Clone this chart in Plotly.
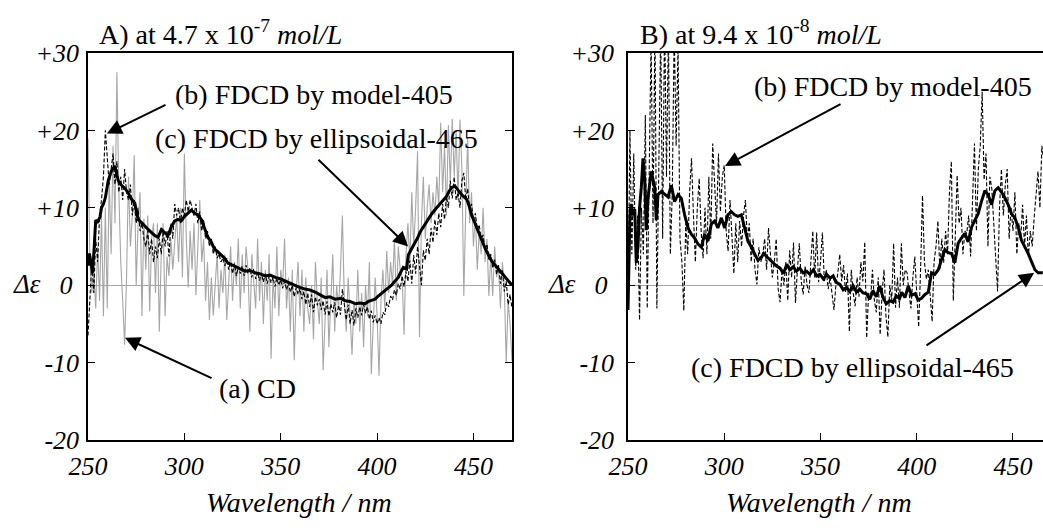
import plotly.graph_objects as go

# ---------------- data ----------------
wl_A = list(range(250, 471))
cd_A = [19, 3, -1, 2, -3, 5, -2, 9, -4, 10,
        -3, 14, 4, 18, 8, 27.5, 12, 3, -2, -7.7,
        1, 14, 5, 9, 16.8, 0, 8, 12, -4, 8.6,
        2, 9, -3.4, 6, 8, -1, 8, -6, 4, 8,
        -4, 3.7, 1.2, 6, 2, 5, 9, 3, 10, 1,
        17, 6, -0.3, 7, 2, 8, -1.3, 5, 11, 3,
        6, -2, 3, -4.5, 1, -3.9, 0.3, 4, -3, 2,
        -1, 4, -4.5, 1, 5, -2, 3, 0, 6, -3,
        4, -1, 5, 2, -6, 4, 1, -3, 6, -2,
        3, -5, 2, -2, 4, -9.5, 1, -3, 5, -4,
        2, 0, 6, -3, 1, -6, 2, -9.7, -1, 3,
        -4, 2, -6, 1, -3, -5, 0, -7, 3, -2,
        -5, 1, -11, -3, 2, -8, -2, 4, -6, 0,
        -3, 2, 9, -2, -6, 1, -4, -9, -2, -5,
        2, -6, -1, -8, 0, -4, 3, -11.5, -5, 1,
        -4, -11.7, -2, 2, -3, 4.4, -1, 3, 0, 6,
        -2, 5, 2, 1, -6.4, 4, 8, 3, 12, 5,
        10, 17.3, -6.7, 8, 14, 6, 10, 13, 8, 12,
        9, 14, 10, 21, 12, 18, 9, 20.7, 13, 21.5,
        14, 20, 11, 21.4, 15, -1.4, 10, 19, 8, 12,
        5, 9, 2, 7, 4, 10, 3, 6, -1.4, 4,
        -1.4, 5, 1, 2.3, -3, 3, 0, -10, -2, -5, -9.8]
model_A = [-6.5, -2, 3, -1, 6, 3, 9, 11, 14, 20,
           16, 13, 15, 17, 13, 16, 12, 14, 11, 15,
           12, 11, 13, 9, 11, 8, 10, 7, 8, 6,
           5, 7, 4, 6, 3, 5, 3.5, 6, 4, 7,
           5, 7, 3.7, 8, 6, 10.5, 9, 10, 8, 10,
           9, 11, 9.5, 11, 10, 9, 10.5, 8, 9.5, 7,
           8.5, 6, 7, 5, 6, 4, 5, 3.5, 4, 3,
           3.5, 2.5, 3.5, 2, 3, 1.5, 2.8, 1.2, 2.4, 1.5,
           2.5, 1.2, 2.6, 1.5, 2.2, 1, 2.1, 0.8, 1.7, 0.6,
           1.6, 0.4, 1.5, 0.2, 1.2, 0.3, 1, -0.2, 0.9, 0,
           0.7, -0.4, 0.5, -0.6, 0.3, -0.9, 0, -1.5, -0.3, -1.2,
           -0.5, -1.8, -0.8, -2.5, -1, -2.8, -1.2, -3.5, -1.5, -2.6,
           -1.8, -3.2, -2, -3.8, -2.1, -4, -2.4, -3.5, -2.2, -4.2,
           -2.6, -3.8, -0.5, -2.8, -4.5, -2.5, -5, -3.2, -5.2, -3,
           -4.2, -2.8, -3.9, -2.5, -3.6, -2.8, -4.4, -3.3, -4.8, -3.9,
           -5, -4.2, -5, -3.5, -3.8, -2.2, -2.8, -1.4, -1.9, -0.6,
           -1.3, 0.2, -0.5, 1.2, -0.2, 1.8, 0.5, 3.2, 0.2, 3.9,
           1.5, 5, 2.5, 0, 4.5, 3.2, 6, 4, 7.4, 5.5,
           8.5, 6.5, 9.3, 7.5, 10.5, 8.5, 11.5, 10, 13.5, 11.2,
           14, 11, 12, 10, 13.5, 14.5, 11, 12.5, 9.8, 10.5,
           8.4, 9.3, 7.2, 7.8, 5.8, 6.5, 4.6, 5.3, 3.3, 4,
           2.2, 3.3, 1.4, 2.6, 0.2, 2, -0.8, 0.5, -2.5, -1.2, -3]
wl_ell_A = [250, 250.7, 251.5, 252.3, 253, 254, 255, 256.2, 257, 258, 259, 260.5, 262.2, 264,
            265, 265.7, 267.4, 269.2, 270.9, 272.6, 274.3, 276, 277.8, 279.5, 281.2, 283, 284.7,
            286.4, 288.1, 289.8, 291.5, 293.3, 295, 296.7, 298.4, 300.1, 301.9, 303.6, 305.3, 307,
            308.8, 310.5, 312.2, 313.9, 315.6, 317.4, 319.1, 320.8, 322.5, 324, 326.3, 328.5, 331.5,
            334, 336.7, 339, 341.9, 344.5, 347.1, 350, 352.3, 355, 357.5, 360, 362.7, 365, 367.9,
            370.5, 373.1, 375.5, 378.3, 381, 383.5, 386, 388.7, 391, 393.8, 395.5, 397.2, 399, 400.6,
            402.5, 404.1, 405.8, 407.5, 409.2, 411, 412.3, 413.6, 415.3, 416.2, 417.9, 419.6, 421,
            422.2, 424.8, 426.5, 428.3, 430.9, 433.5, 436.1, 437.5, 438.7, 440.4, 442.1, 443.5,
            444.7, 446.5, 447.8, 449.1, 450.8, 452.5, 454.2, 456, 457.8, 459.5, 461.2, 462.9, 464.6,
            466.4, 468, 470]
ell_A = [2.5, 4.1, 3, 1.6, 4, 8.4, 8.2, 8.8, 10, 10.5, 11.3, 13.5, 14.8, 15.4,
         14.2, 13.5, 12.9, 12.5, 11.9, 11.1, 10.6, 8.5, 8.1, 7.6, 7.2, 6.8, 6.4,
         6.2, 7.2, 6.8, 6.4, 7.6, 8.3, 8.5, 8.3, 8.9, 9.3, 9.7, 9.3, 9.1,
         8.5, 7.2, 6.2, 5.6, 4.7, 4.3, 3.9, 3.5, 2.9, 2.7, 2.5, 2.1, 1.8,
         1.9, 1.6, 1.5, 1.2, 1.3, 1.0, 0.8, 0.55, 0.2, -0.1, -0.3, -0.5, -0.6, -0.9,
         -1.2, -1.6, -1.5, -1.8, -1.7, -2.0, -2.1, -2.4, -2.3, -2.4, -2.1, -2.0, -1.8, -1.4,
         -1.0, -0.6, -0.3, 0, 0.5, 1.0, 1.7, 2.3, 2.1, 3.9, 4.7, 5.4, 6.1,
         6.8, 7.9, 8.5, 9.2, 10, 10.7, 11.5, 12.2, 12.6, 12.8, 12.2, 11.8,
         11.5, 11.1, 10.2, 9, 8, 6.9, 5.8, 4.8, 3.9, 3.1, 2.6, 2.1, 1.6,
         1.0, 0.6, 0]

wl_B = list(range(250, 467))
model_B = [-3, 20, 4, 17, 2, 9, -4.5, 10, 4, 22,
           -3, 12, 32, 8, 34, -3, 16, 33, 6, 35,
           14, 33, 4, 12, 33, 18, 31, 6, 3, -3.3,
           8, 4, 12, 16.4, 9, 3, 10, 13.8, 7, 3.5,
           10, 4, 14, 6, 18.3, 12, 8, 17, 9.5, 14,
           15.5, 7, 4.4, 11, 6, 1.5, 8, 3, 8.3, 5,
           9, 11, 5.7, 8, 3, 6, 2, 0.1, 4.9, 3,
           4, 6, 2, 7.4, 4, 1, 3, 6, -0.5, -2.2,
           2, 0, 3, -2, 4.5, 1, 5.5, -2.3, 2, 5.4,
           0.5, -1.2, 2.5, 0, -1, 3, 7, 1, 6.8, 0.4,
           3, 6.8, 0.4, 2, -0.5, 1, -1.5, -3.2, 0, 1.5,
           4, 0.5, 2.6, -1, 1.5, -6, 2, -1, -2.7, 1,
           -1.5, 3, 0.5, 5.6, -6.8, -1, -1.8, 2, -2, -3.5,
           1, -6.4, -1, 2, -4, -6.7, 0, -2, 5.4, -2.9,
           1, -2.9, 5.4, 0, 2, 1.6, -1, -3, 1, 3.7,
           -1, -5.4, 2, 11.6, 3, 0.8, 2, -1, -4.7, 3,
           5, 8.3, 2, 6, 2.9, 7, 4, 12, 16, -2,
           6, 14.2, 8, 10, 4, 7, 6.7, 9, 3.7, 11,
           18.3, 7, 15, 18, 25, 13.6, 17, 5, 14, 12.5,
           8, 2.5, -0.8, 10, 15, 9, 13, 15, 6, 10,
           7, 12, 4, 8, 6, 10.4, 5, 9, 3.7, 7,
           5, 8.7, 12, 14.7, 10, 18, 16]
wl_ell_B = [250, 250.5, 251, 251.6, 252.2, 252.7, 253.5, 254.3, 255.2, 256, 256.9, 257.8, 258.7,
            259.5, 260.4, 262.1, 263.9, 264.7, 265.6, 267.3, 269.1, 270.8, 272.5, 274.2, 276,
            277.7, 279.4, 281.2, 282.9, 284.6, 286.4, 288.1, 289.8, 291.5, 293.3, 295, 296.7,
            298.5, 300.2, 301.9, 303.7, 305.4, 307.1, 308.9, 310.6, 312.3, 314.1, 315.8, 317.5,
            319.3, 320.5, 322, 325.5, 327, 329, 330.8, 332.5, 334, 335.9, 337.5, 339.3, 341,
            342.8, 344.5, 346.3, 348, 349.7, 351.5, 353.2, 355, 356.6, 358, 360.1, 361.8, 363.5,
            365.2, 367, 368.7, 370.4, 372.1, 373.9, 375.6, 377.3, 379, 380.8, 382.5, 384.2,
            385.9, 387.7, 389.4, 391.1, 392.2, 393.9, 395.6, 397.3, 399.1, 400.8, 402.5, 404.3,
            406, 407.7, 409.4, 411.2, 412.9, 414.6, 416.3, 418.1, 419.8, 421.5, 423.2, 425,
            426.7, 428.5, 430.2, 431.9, 433.6, 435.4, 437.1, 438.9, 440.6, 442.3, 444.1, 445.8,
            447.5, 449.3, 451, 452.7, 454.4, 456.2, 457.9, 459.7, 461.4, 463.1, 465.5]
ell_B = [-3.2, 3, 9, 10.5, 9, 9.6, 9.8, 2.9, 5, 10, 12.6, 16.4, 13.5,
         7.1, 11.3, 14.7, 12.6, 8.4, 11.7, 12.1, 11.7, 11.4, 12.9, 10.8, 11.7,
         11.2, 9.1, 7.4, 6.6, 6.1, 5.3, 4.9, 6.6, 5.7, 7.9, 8.3, 7.4,
         8.7, 7.4, 9.1, 9.5, 9.1, 8.9, 9.1, 7.4, 5.7, 4.9, 4.0, 3.2,
         3.6, 4.1, 3.7, 2.9, 2.5, 2.2, 1.5, 2.7, 2.0, 2.4, 1.8, 2.2, 1.6,
         1.8, 1.4, 2.0, 1.2, 1.4, 0.8, 1.4, 0.9, 1.2, 0.4, 0.1, -0.6, -0.3,
         -0.8, -0.1, -0.9, -0.5, -1.0, -1.1, -1.8, -0.7, -1.5, -0.1, -1.6, -2.4,
         -2.0, -2.2, -1.4, -1.7, -0.9, -1.6, -0.1, -1.3, -1.1, -1.9, -1.7, -1.2,
         -0.9, 1.6, 1.4, 2.0, 3.3, 4.6, 4.2, 4.1, 2.9, 5.4, 6.1, 6.7,
         5.6, 7.5, 8.4, 9.2, 10.8, 12.2, 11.7, 10.4, 12.2, 12.6, 12.0, 11.3,
         10.4, 9.2, 8.7, 7.5, 5.8, 5.0, 4.1, 3.0, 2.0, 1.6, 1.6]

y_ticks = [-20, -10, 0, 10, 20, 30]
y_labels = ["-20", "-10", "0\u00a0", "+10", "+20", "+30"]
x_ticks = [250, 300, 350, 400, 450]
x_labels = ["250", "300", "350", "400", "450"]

# ---------------- figure ----------------
W, H = 1043, 531
SERIF = "Liberation Serif, Times New Roman, Times, serif"
GRAY = "#a6a6a6"


def px(x):
    return x / W


def py(y):
    return 1 - y / H


fig = go.Figure()

fig.add_trace(go.Scatter(x=wl_A, y=cd_A, mode="lines", line=dict(color=GRAY, width=1.1),
                         xaxis="x", yaxis="y", name="(a) CD"))
fig.add_trace(go.Scatter(x=wl_A, y=model_A, mode="lines",
                         line=dict(color="black", width=1.1, dash="4px,2px"),
                         xaxis="x", yaxis="y", name="(b) model-405"))
fig.add_trace(go.Scatter(x=wl_ell_A, y=ell_A, mode="lines", line=dict(color="black", width=3),
                         xaxis="x", yaxis="y", name="(c) ellipsoidal-465"))

fig.add_trace(go.Scatter(x=wl_B, y=model_B, mode="lines",
                         line=dict(color="black", width=1.1, dash="4px,2px"),
                         xaxis="x2", yaxis="y2", name="(b) model-405"))
fig.add_trace(go.Scatter(x=wl_ell_B, y=ell_B, mode="lines", line=dict(color="black", width=3),
                         xaxis="x2", yaxis="y2", name="(c) ellipsoidal-465"))

tickfont = dict(family=SERIF, size=26, color="black", style="italic")
ydom = [py(440), py(53)]

common_x = dict(tickvals=x_ticks, ticktext=x_labels, ticks="inside", ticklen=7, tickwidth=1.2,
                tickcolor="black", showline=True, linecolor="black", linewidth=1.5,
                showgrid=False, zeroline=False, tickfont=tickfont, fixedrange=True,
                automargin=False)
common_y = dict(range=[-20, 30], tickvals=y_ticks, ticktext=y_labels, ticks="inside", ticklen=7,
                tickwidth=1.2, tickcolor="black", showline=True, linecolor="black", linewidth=1.5,
                showgrid=False, zeroline=True, zerolinecolor=GRAY, zerolinewidth=1.3,
                tickfont=tickfont, domain=ydom, fixedrange=True, automargin=False)

fig.update_layout(
    template="none",
    width=W, height=H, margin=dict(l=0, r=0, t=0, b=0, pad=0, autoexpand=False),
    paper_bgcolor="white", plot_bgcolor="white", showlegend=False,
    xaxis=dict(domain=[px(88), px(512)], range=[250, 470], anchor="y", mirror=True,
               ticklabelstandoff=2, **common_x),
    yaxis=dict(anchor="x", mirror="ticks", ticklabelstandoff=2, **common_y),
    xaxis2=dict(domain=[px(628), 1.0], range=[250, 465.6], anchor="y2", mirror=True,
                ticklabelstandoff=2, **common_x),
    yaxis2=dict(anchor="x2", mirror=False, ticklabelstandoff=7, **common_y),
)

ann = []
txt_font = dict(family=SERIF, size=28, color="black")
# titles
ann.append(dict(x=px(97), y=py(33), xref="paper", yref="paper", xanchor="left", yanchor="middle",
                text="A) at 4.7 x 10<sup>-7</sup> <i>mol/L</i>", showarrow=False,
                font=dict(family=SERIF, size=28, color="black")))
ann.append(dict(x=px(638), y=py(33), xref="paper", yref="paper", xanchor="left", yanchor="middle",
                text="B) at 9.4 x 10<sup>-8</sup> <i>mol/L</i>", showarrow=False,
                font=dict(family=SERIF, size=28, color="black")))
# delta epsilon labels
for xx in (27, 562):
    ann.append(dict(x=px(xx), y=py(284), xref="paper", yref="paper", text="<i>Δε</i>",
                    xanchor="center", yanchor="middle",
                    showarrow=False, font=dict(family=SERIF, size=27, color="black")))
# x axis titles
for xx in (299, 819):
    ann.append(dict(x=px(xx), y=py(502), xref="paper", yref="paper",
                    xanchor="center", yanchor="middle",
                    text="<i>Wavelength / nm</i>", showarrow=False,
                    font=dict(family=SERIF, size=28, color="black")))
# series labels
labels = [(314, 95, "(b) FDCD by model-405"), (316, 138, "(c) FDCD by ellipsoidal-465"),
          (257, 388, "(a) CD"), (893, 87, "(b) FDCD by model-405"),
          (852, 367, "(c) FDCD by ellipsoidal-465")]
for xx, yy, t in labels:
    ann.append(dict(x=px(xx), y=py(yy), xref="paper", yref="paper", text=t, showarrow=False,
                    xanchor="center", yanchor="middle", font=txt_font))
# arrows (tip, tail) in data coordinates
arrows = [("x", "y", 259.8, 19.6, 291, 23.4), ("x", "y", 416.1, 5.0, 368.8, 16.4),
          ("x", "y", 269.2, -6.8, 314.9, -12.1),
          ("x2", "y2", 300.4, 15.4, 361.2, 23.5), ("x2", "y2", 461.0, 1.6, 404.3, -7.9)]
for xr, yr, x0, y0, x1, y1 in arrows:
    ann.append(dict(x=x0, y=y0, xref=xr, yref=yr, ax=x1, ay=y1, axref=xr, ayref=yr, text="",
                    showarrow=True, arrowhead=2, arrowsize=1.5, arrowwidth=2, arrowcolor="black"))
fig.update_layout(annotations=ann)

fig.write_html("out.html", config={"displayModeBar": False},
               post_script="document.body.style.margin='0';document.body.style.overflow='hidden';")
